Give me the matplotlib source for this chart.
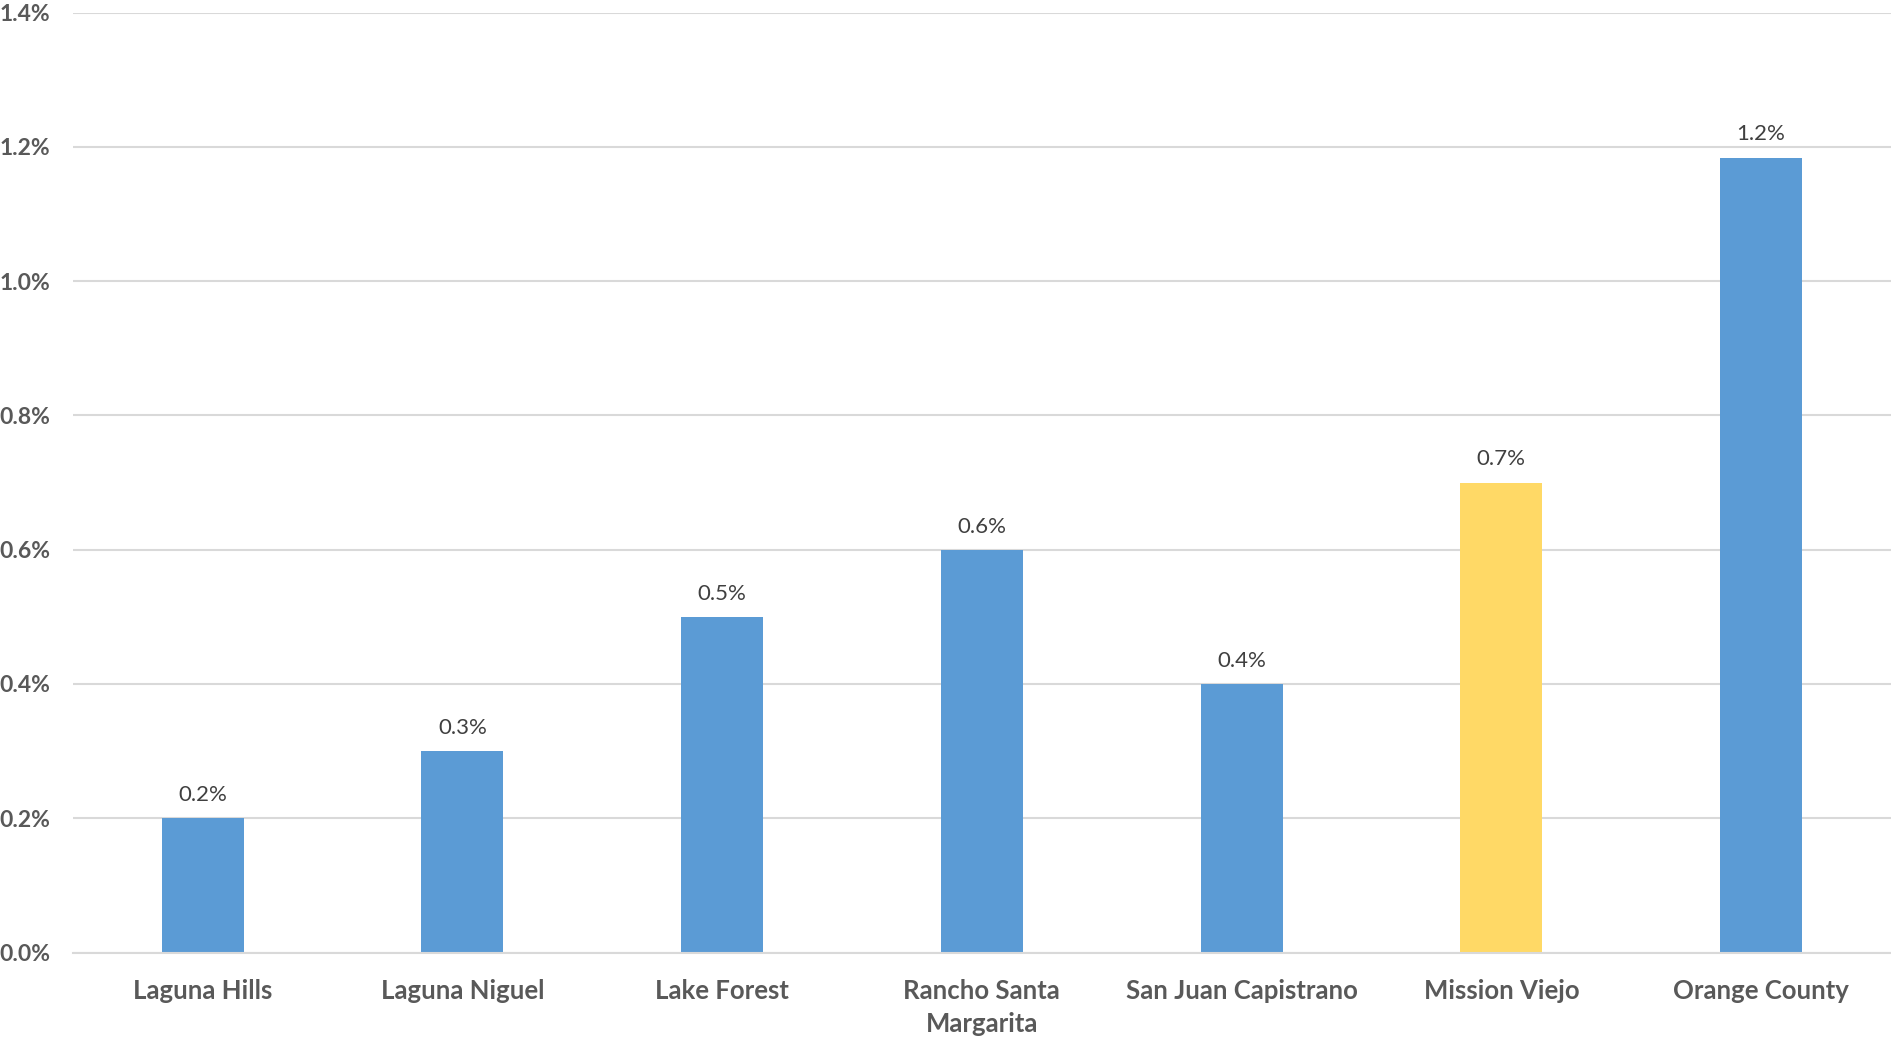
import matplotlib.pyplot as plt
from matplotlib.ticker import FuncFormatter

# ciudades y crecimiento anual
ciudades = ["Laguna Hills", "Laguna Niguel", "Lake Forest", "Rancho Santa\nMargarita",
            "San Juan Capistrano", "Mission Viejo", "Orange County"]
crecimiento = [0.2, 0.3, 0.5, 0.6, 0.4, 0.7, 1.184]
destacada = "Mission Viejo"

azul = "#5B9BD5"
amarillo = "#FFD966"
colores = [amarillo if c == destacada else azul for c in ciudades]

fig = plt.figure(figsize=(18.91, 10.39), dpi=100)
ax = fig.add_axes([72.7 / 1891, 1 - 952.6 / 1039, 1 - 72.7 / 1891, (952.6 - 12.5) / 1039])

x = range(len(ciudades))
barras = ax.bar(x, crecimiento, width=0.316, color=colores, zorder=3)

for b, v in zip(barras, crecimiento):
    ax.annotate(f"{v:.1f}%", (b.get_x() + b.get_width() / 2, v),
                xytext=(0, 9.5), textcoords="offset points", ha="center", va="bottom",
                fontsize=16, color="#404040", family="Lato")

ax.set_xlim(-0.5, len(ciudades) - 0.5)
ax.set_ylim(0, 1.4)
ax.set_yticks([0, 0.2, 0.4, 0.6, 0.8, 1.0, 1.2, 1.4])
ax.yaxis.set_major_formatter(FuncFormatter(lambda v, p: f"{v:.1f}%"))
ax.set_xticks(list(x))
ax.set_xticklabels(ciudades, fontsize=18.5, fontweight="bold", color="#595959",
                   family="Lato", linespacing=1.45)
for t in ax.get_yticklabels():
    t.set_fontsize(16.5)
    t.set_fontweight("bold")
    t.set_color("#595959")
    t.set_family("Lato")

ax.grid(axis="y", color="#D9D9D9", linewidth=1.5, zorder=0)
ax.tick_params(axis="both", length=0)
ax.tick_params(axis="x", pad=19)
ax.tick_params(axis="y", pad=16)
for lado in ["top", "right", "left"]:
    ax.spines[lado].set_visible(False)
ax.spines["bottom"].set_color("#D9D9D9")
ax.spines["bottom"].set_linewidth(1.5)
ax.spines["bottom"].set_zorder(4)

fig.savefig("out.png", dpi=100)
